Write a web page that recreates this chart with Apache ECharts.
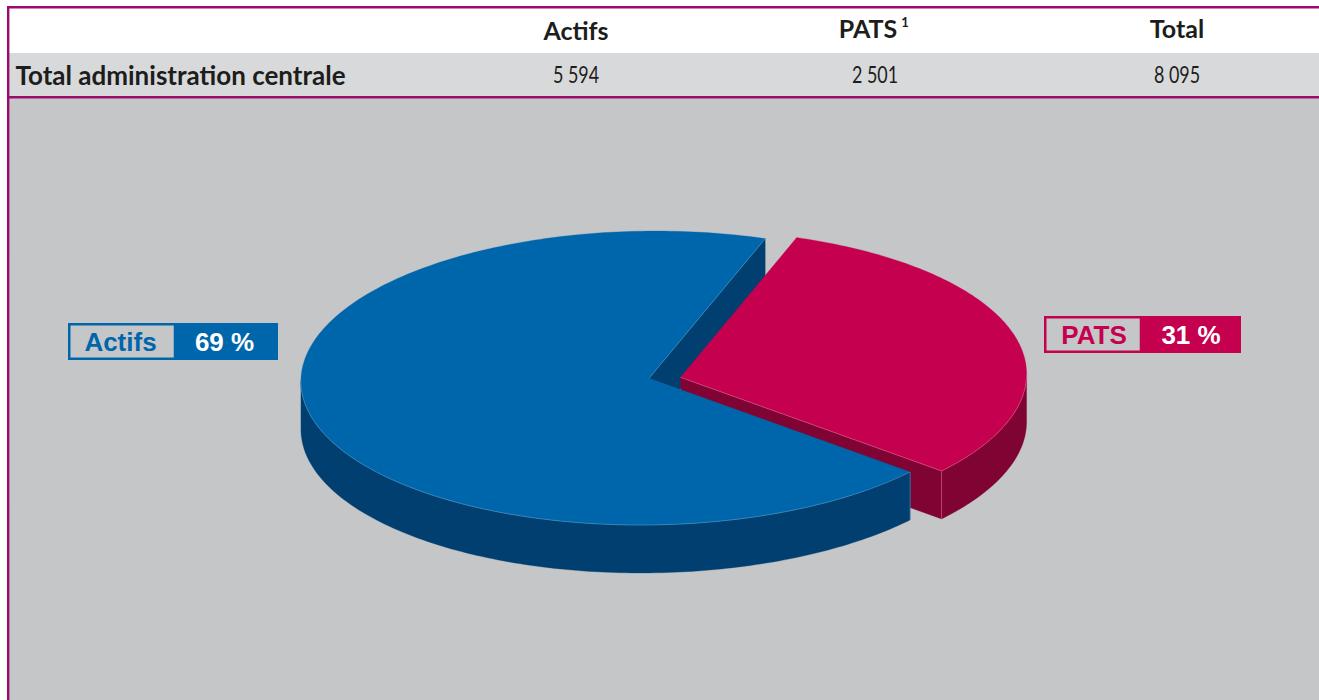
<!DOCTYPE html>
<html><head><meta charset="utf-8">
<style>html,body{margin:0;padding:0;background:#fff}#c{width:1319px;height:700px}
text{font-variant-ligatures:none}</style>
<script src="https://cdn.jsdelivr.net/npm/echarts@6/dist/echarts.min.js"></script>
</head><body><div id="c"></div>
<script>
const categories = ['Actifs', 'PATS'];
const values = [5594, 2501];
const percentLabels = ['69 %', '31 %'];
const tableHeaders = ['Actifs', 'PATS', 'Total'];
const tableRowName = 'Total administration centrale';
const tableRow = ['5 594', '2 501', '8 095'];

const COL = {
  bg: '#c5c6c8', row: '#d8d9db', line: '#9e0b6f',
  top: ['#0066ab', '#c4004f'], wall: ['#003f70', '#7f0433'], edge: ['#4a8dbd', '#d9558a']
};
// slight skew reproduces the tilted, hand-projected ellipse of the original
const PIE = { cx: 648, cy: 378, rx: 347, ry: 147, skew: 7.5, depth: 48, startDeg: 71.5, apexDx: 1, apexDy: 0.3 };
const OFFSET = [[0, 0], [31.5, -1]];
const LABELS = [
  { x: 68, y: 323, w1: 107, w2: 103, h: 37, nameDx: -1, nameDy: 0, pctDx: -2, pctDy: 0 },
  { x: 1044, y: 316, w1: 97, w2: 100, h: 37, nameDx: 1.5, nameDy: 0, pctDx: 0, pctDy: 0 }
];
const total = values.reduce((a, b) => a + b, 0);

function sliceGeom(i) {
  let a0 = PIE.startDeg;
  for (let k = 0; k < i; k++) a0 += values[k] / total * 360;
  const a1 = a0 + values[i] / total * 360;
  const cx = PIE.cx + OFFSET[i][0], cy = PIE.cy + OFFSET[i][1];
  const pt = (deg, d) => {
    const r = deg * Math.PI / 180;
    return [cx + PIE.rx * Math.cos(r) + PIE.skew * Math.sin(r), cy - PIE.ry * Math.sin(r) + (d || 0)];
  };
  const arc = (s, e, d) => {
    const out = [], n = Math.max(2, Math.ceil(Math.abs(e - s)));
    for (let j = 0; j <= n; j++) out.push(pt(s + (e - s) * j / n, d));
    return out;
  };
  // the part of the rim that faces the viewer, between the two horizontal extremes
  const fronts = [];
  for (let base = -360; base <= 720; base += 360) {
    const s = Math.max(a0, base + 181), e = Math.min(a1, base + 361.3);
    if (e > s) fronts.push([s, e]);
  }
  return { a0, a1, cx, cy, pt, arc, fronts };
}

function renderItem(params, api) {
  const i = params.dataIndex;
  const g = sliceGeom(i);
  const apex = [g.cx + PIE.apexDx, g.cy + PIE.apexDy];
  const apexLow = [apex[0], apex[1] + PIE.depth];
  const children = [];
  const poly = (points, fill, z2) => children.push({
    type: 'polygon', z2, shape: { points }, style: { fill, stroke: fill, lineWidth: 0.3 }
  });
  const edge = (points, z2) => children.push({
    type: 'polyline', z2, shape: { points },
    style: { fill: 'none', stroke: COL.edge[i], lineWidth: 0.7 }
  });
  poly([apex, g.pt(g.a0), g.pt(g.a0, PIE.depth), apexLow], COL.wall[i], i === 0 ? 1 : 2);
  const wallZ = i === 0 ? 4 : 2;
  g.fronts.forEach(f => {
    poly(g.arc(f[0], f[1], 0).concat(g.arc(f[1], f[0], PIE.depth)), COL.wall[i], wallZ);
  });
  const topZ = i === 0 ? 5 : 3;
  poly([apex].concat(g.arc(g.a0, g.a1, 0)), COL.top[i], topZ);
  // thin light edges only where the top meets its own walls
  edge([apex, g.pt(g.a0)], topZ);
  g.fronts.forEach(f => edge(g.arc(f[0], f[1], 0), topZ));
  const corner = i === 0 ? g.a1 : g.a0;
  edge([g.pt(corner), g.pt(corner, PIE.depth)], wallZ);

  const l = LABELS[i];
  children.push(
    { type: 'rect', z2: 6, shape: { x: l.x + 1.25, y: l.y + 1.25, width: l.w1 - 1.25, height: l.h - 2.5 },
      style: { fill: 'transparent', stroke: COL.top[i], lineWidth: 2.5 } },
    { type: 'rect', z2: 6, shape: { x: l.x + l.w1, y: l.y, width: l.w2, height: l.h }, style: { fill: COL.top[i] } },
    { type: 'text', z2: 7, x: l.x + l.w1 / 2 + l.nameDx, y: l.y + l.h / 2 + l.nameDy,
      style: { text: categories[i], fill: COL.top[i], font: 'bold 26px "Liberation Sans"', align: 'center', verticalAlign: 'middle' } },
    { type: 'text', z2: 7, x: l.x + l.w1 + l.w2 / 2 + l.pctDx, y: l.y + l.h / 2 + l.pctDy,
      style: { text: percentLabels[i], fill: '#fff', font: 'bold 26px "Liberation Sans"', align: 'center', verticalAlign: 'middle' } }
  );
  return { type: 'group', children };
}

const headFont = 'bold 25px Lato';
const rowFont = 'bold 26px Lato';
const cellFont = '23px Lato';
const txt = (text, x, y, font, align, extra) => Object.assign({
  type: 'text', x, y, z: 2,
  style: { text, font, fill: '#1d1d1b', align: align || 'center', verticalAlign: 'middle' }
}, extra || {});
const NARROW = { scaleX: 0.78 };

const chart = echarts.init(document.getElementById('c'), null, { renderer: 'svg' });
chart.setOption({
  animation: false,
  backgroundColor: '#ffffff',
  graphic: { elements: [
    { type: 'rect', z: 0, shape: { x: 8, y: 97, width: 1311, height: 603 }, style: { fill: COL.bg } },
    { type: 'rect', z: 0, shape: { x: 8, y: 53, width: 1311, height: 44 }, style: { fill: COL.row } },
    { type: 'rect', z: 1, shape: { x: 7, y: 6, width: 1312, height: 2.4 }, style: { fill: COL.line } },
    { type: 'rect', z: 1, shape: { x: 7, y: 96, width: 1312, height: 2.4 }, style: { fill: COL.line } },
    { type: 'rect', z: 1, shape: { x: 7, y: 6, width: 2.4, height: 694 }, style: { fill: COL.line } },
    txt(tableHeaders[0], 576, 30, headFont),
    txt(tableHeaders[1], 868, 28, headFont),
    txt('1', 905, 22, 'bold 13px Lato'),
    txt(tableHeaders[2], 1177, 28, headFont),
    txt(tableRowName, 15.5, 75, rowFont, 'left'),
    txt(tableRow[0], 576, 74.5, cellFont, 'center', NARROW),
    txt(tableRow[1], 875, 74.5, cellFont, 'center', NARROW),
    txt(tableRow[2], 1177, 74.5, cellFont, 'center', NARROW)
  ] },
  series: [{
    type: 'custom',
    coordinateSystem: 'none',
    silent: true,
    clip: false,
    z: 5,
    renderItem,
    data: categories.map((name, i) => ({ name, value: values[i] }))
  }]
});
</script></body></html>
